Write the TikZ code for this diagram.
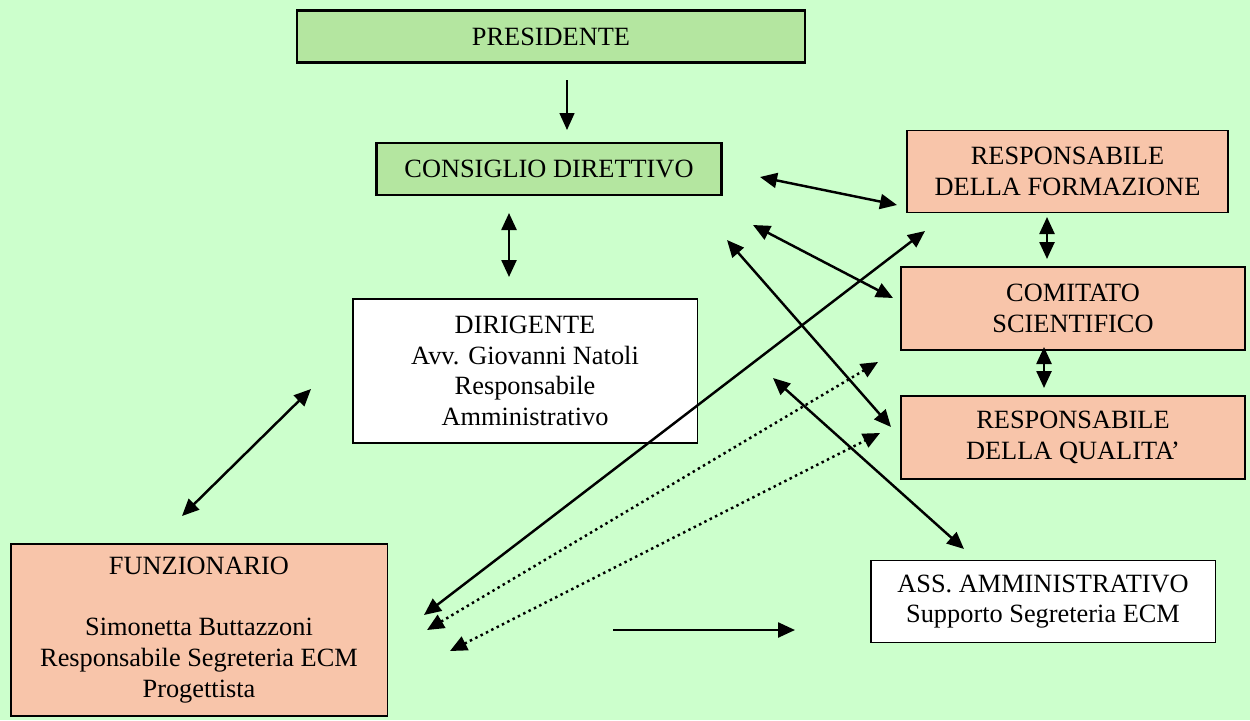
\documentclass[tikz,border=0pt]{standalone}
\usepackage{fontspec}
\setmainfont{Liberation Serif}
\usetikzlibrary{arrows.meta}

\definecolor{sfondo}{HTML}{CCFFCC}
\definecolor{verde}{HTML}{B4E6A0}
\definecolor{salmone}{HTML}{F8C5AA}

\begin{document}
\begin{tikzpicture}[x=0.02cm, y=-0.02cm,
    every node/.style={font=\fontsize{15}{17.5}\selectfont, align=center, inner sep=0pt},
    greenbox/.style={draw, line width=1.3pt, fill=verde},
    pinkbox/.style={draw, line width=1.1pt, fill=salmone},
    whitebox/.style={draw, line width=1.1pt, fill=white},
    tip/.style={Triangle[length=0.34cm, width=0.3cm]},
    link/.style={line width=1.4pt, {Triangle[length=0.34cm, width=0.3cm]}-{Triangle[length=0.34cm, width=0.3cm]}},
    dotlink/.style={link, dotted},
    onelink/.style={line width=1.4pt, -{Triangle[length=0.34cm, width=0.3cm]}}]
    \fill[sfondo] (0,0) rectangle (1250,720);
    \useasboundingbox (0,0) rectangle (1250,720);

    \node[greenbox, minimum width=10.16cm, minimum height=1.04cm] (pres) at (551, 36.5) {PRESIDENTE};
    \node[greenbox, minimum width=6.9cm, minimum height=1.04cm] (cons) at (549, 169) {CONSIGLIO DIRETTIVO};
    \node[pinkbox, minimum width=6.42cm, minimum height=1.64cm] (form) at (1067.5, 171.5) {RESPONSABILE\\DELLA FORMAZIONE};
    \node[pinkbox, minimum width=6.88cm, minimum height=1.66cm] (com) at (1073, 308.5) {COMITATO\\SCIENTIFICO};
    \node[pinkbox, minimum width=6.88cm, minimum height=1.66cm] (qual) at (1073, 437.5) {RESPONSABILE\\DELLA QUALITA'};
    \node[whitebox, minimum width=6.9cm, minimum height=2.88cm] (dir) at (525, 371) {DIRIGENTE\\Avv. Giovanni Natoli\\Responsabile\\Amministrativo};
    \node[pinkbox, minimum width=7.54cm, minimum height=3.44cm] (funz) at (199, 630) {FUNZIONARIO\\[17.5pt]Simonetta Buttazzoni\\Responsabile Segreteria ECM\\Progettista};
    \node[whitebox, minimum width=6.9cm, minimum height=1.64cm] (ass) at (1043, 601.5) {ASS. AMMINISTRATIVO\\Supporto Segreteria ECM};

    % estremi delle frecce
    \coordinate (p1) at (567, 80);   \coordinate (p2) at (567, 130);
    \coordinate (cd1) at (509, 213); \coordinate (cd2) at (509, 277);
    \coordinate (cf1) at (760, 177); \coordinate (cf2) at (897, 205);
    \coordinate (cc1) at (753, 225); \coordinate (cc2) at (893, 298);
    \coordinate (cq1) at (727, 240); \coordinate (cq2) at (891, 427);
    \coordinate (ff1) at (424, 615); \coordinate (ff2) at (925, 231);
    \coordinate (fc1) at (427, 630); \coordinate (fc2) at (878, 362);
    \coordinate (fq1) at (450, 651); \coordinate (fq2) at (880, 433);
    \coordinate (da1) at (773, 378); \coordinate (da2) at (964, 549);
    \coordinate (fa1) at (613, 630); \coordinate (fa2) at (795, 630);
    \coordinate (df1) at (311, 389); \coordinate (df2) at (182, 516);
    \coordinate (rc1) at (1047, 217); \coordinate (rc2) at (1047, 259);
    \coordinate (cr1) at (1044, 347); \coordinate (cr2) at (1044, 388);

    \draw[line width=0.9pt, -{Triangle[length=0.34cm, width=0.3cm]}] (p1) -- (p2);
    \draw[link] (cd1) -- (cd2);
    \draw[link] (cf1) -- (cf2);
    \draw[link] (cc1) -- (cc2);
    \draw[link] (cq1) -- (cq2);
    \draw[link] (ff1) -- (ff2);
    \draw[dotlink] (fc1) -- (fc2);
    \draw[dotlink] (fq1) -- (fq2);
    \draw[link] (da1) -- (da2);
    \draw[onelink] (fa1) -- (fa2);
    \draw[link] (df1) -- (df2);
    \draw[link] (rc1) -- (rc2);
    \draw[link] (cr1) -- (cr2);
\end{tikzpicture}
\end{document}
